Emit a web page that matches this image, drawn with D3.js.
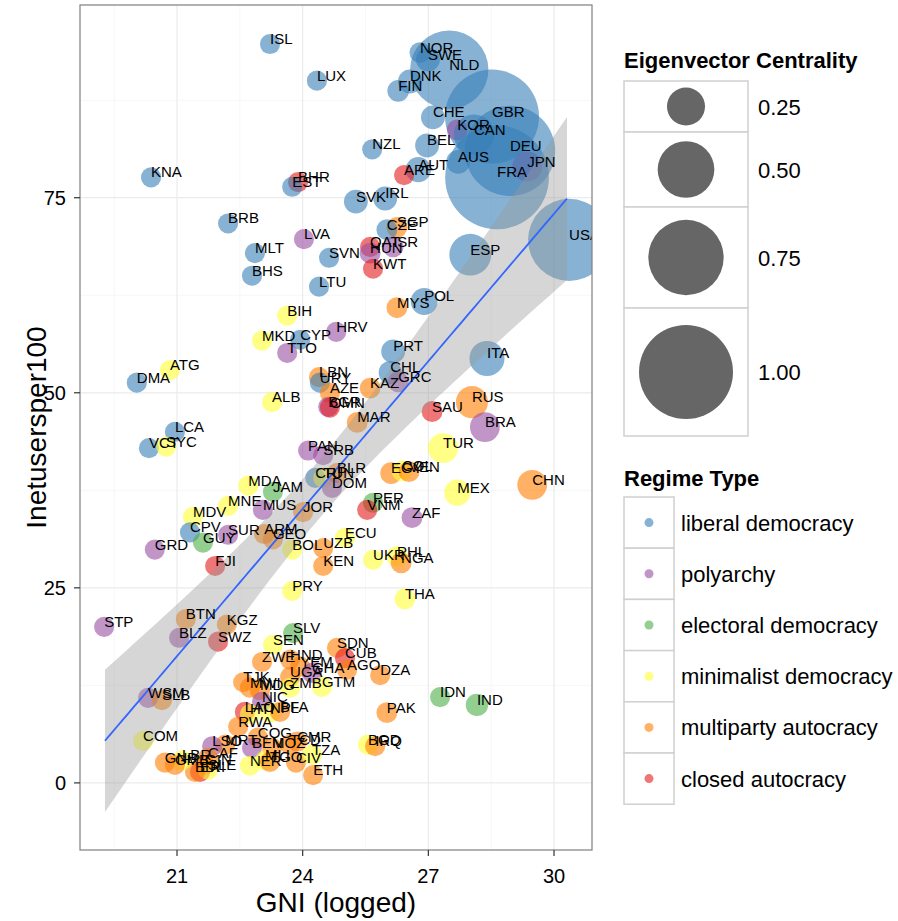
<!DOCTYPE html>
<html><head><meta charset="utf-8">
<script src="https://cdn.jsdelivr.net/npm/d3@7"></script>
<style>body{margin:0;background:#fff;} text{font-family:"Liberation Sans",Arial,Helvetica,sans-serif;}</style>
</head><body><svg id="c" width="898" height="921"></svg>
<script>
// ---------- data ----------
const codes = ["ISL","LUX","KNA","BHR","EST","NOR","SWE","NLD","DNK","FIN","CHE","GBR","KOR","CAN","DEU","JPN","FRA","AUS","BEL","AUT","ARE","NZL","SVK","IRL","USA","ESP","ITA","CHN","BRB","LVA","MLT","SVN","BHS","LTU","BIH","HRV","MKD","CYP","TTO","ATG","DMA","LBN","URY","AZE","ALB","BGR","OMN","SGP","CZE","QAT","ISR","HUN","KWT","POL","MYS","PRT","CHL","GRC","KAZ","RUS","SAU","MAR","BRA","LCA","VCT","SYC","PAN","SRB","CRI","TUN","BLR","DOM","TUR","EGY","COL","VEN","MEX","PER","VNM","ZAF","ECU","UKR","PHL","NGA","THA","MDA","JAM","MNE","MUS","JOR","MDV","CPV","SUR","GUY","ARM","GEO","GRD","BOL","UZB","KEN","FJI","PRY","BTN","STP","KGZ","BLZ","SWZ","WSM","SLB","COM","SLV","SEN","SDN","CUB","HND","ZWE","YEM","GHA","AGO","DZA","GTM","UGA","ZMB","TJK","PAK","BGD","IRQ","ETH","IDN","IND","MWI","MDG","NIC","LAO","HTI","NPL","BFA","RWA","COG","MRT","LSO","BEN","MOZ","TCD","CMR","CIV","TZA","GIN","NER","ERI","SLE","BDI","CAF","LBR","GMB","MLI","TGO","GNB"];
const gni = [23.22,24.34,20.38,23.89,23.75,26.80,26.99,27.50,26.56,26.28,27.11,28.52,27.69,28.09,28.95,29.36,28.64,27.71,26.97,26.76,26.42,25.66,25.27,25.97,30.36,28.00,28.40,29.48,22.22,24.03,22.86,24.63,22.79,24.39,23.63,24.80,23.03,23.94,23.63,20.83,20.04,24.39,24.41,24.65,23.27,24.61,24.65,26.25,26.01,25.61,26.16,25.61,25.68,26.90,26.25,26.16,26.09,26.28,25.61,28.04,27.09,25.30,28.35,20.95,20.33,20.74,24.13,24.49,24.30,24.49,24.82,24.70,27.35,26.11,26.37,26.54,27.69,25.68,25.54,26.61,25.01,25.68,26.25,26.35,26.44,22.70,23.29,22.22,23.05,24.01,21.38,21.31,22.22,21.62,23.08,23.29,20.47,23.75,24.49,24.49,21.91,23.75,21.21,19.26,22.19,21.05,21.98,20.31,20.64,20.19,23.77,23.29,24.82,25.01,23.70,23.03,23.94,24.22,25.06,25.85,24.46,23.70,23.70,22.58,26.01,25.56,25.73,24.25,27.28,28.16,22.74,22.98,23.03,22.62,22.74,23.22,23.46,22.46,22.93,22.15,21.84,22.79,23.27,23.70,23.87,23.84,24.22,21.67,22.74,21.55,21.74,21.43,21.74,21.12,20.95,23.10,23.22,20.71];
const inet = [94.7,90.0,77.6,77.0,76.4,93.6,92.7,91.4,89.9,88.7,85.3,85.4,83.7,83.1,81.0,79.0,77.6,79.6,81.7,78.6,77.9,81.2,74.5,74.9,69.6,67.7,54.4,38.2,71.7,69.7,67.9,67.3,65.0,63.6,59.9,57.8,56.7,56.8,55.1,52.9,51.3,52.0,51.3,50.0,48.8,48.2,48.1,71.2,70.9,68.7,68.7,67.9,65.9,61.7,60.9,55.3,52.6,51.4,50.6,48.8,47.6,46.2,45.6,45.0,42.9,43.1,42.6,42.0,39.1,39.1,39.7,37.8,42.9,39.7,40.0,39.9,37.2,35.9,35.0,34.0,31.4,28.6,29.0,28.2,23.6,38.1,37.3,35.5,35.0,34.7,34.1,32.1,31.8,30.8,31.9,31.2,29.9,29.9,30.1,27.8,27.8,24.6,21.0,20.0,20.3,18.6,18.1,10.9,10.6,5.4,19.2,17.7,17.3,16.0,15.8,15.5,14.9,14.1,14.5,13.8,12.3,13.6,12.2,12.9,9.0,4.9,4.7,1.0,11.0,10.0,12.2,11.9,10.4,9.1,8.8,9.0,9.1,7.2,5.8,4.9,4.7,4.5,4.5,4.9,5.3,2.6,3.6,2.3,2.2,1.4,1.7,1.4,3.2,2.9,2.3,2.9,2.7,2.6];
const eig = [0.01,0.01,0.01,0.01,0.01,0.02,0.06,0.79,0.06,0.03,0.06,1.00,0.02,0.28,0.95,0.14,1.13,0.06,0.06,0.08,0.01,0.01,0.06,0.06,0.84,0.30,0.21,0.14,0.01,0.01,0.01,0.01,0.01,0.01,0.01,0.01,0.01,0.01,0.01,0.01,0.01,0.01,0.01,0.01,0.01,0.01,0.01,0.02,0.02,0.01,0.02,0.02,0.01,0.10,0.02,0.06,0.05,0.02,0.02,0.17,0.02,0.02,0.14,0.01,0.01,0.01,0.01,0.01,0.01,0.01,0.01,0.01,0.14,0.03,0.02,0.02,0.09,0.01,0.01,0.02,0.01,0.01,0.02,0.02,0.02,0.01,0.01,0.01,0.01,0.01,0.01,0.01,0.01,0.01,0.01,0.01,0.01,0.01,0.01,0.01,0.01,0.01,0.01,0.01,0.01,0.01,0.01,0.01,0.01,0.01,0.01,0.01,0.01,0.01,0.01,0.01,0.01,0.01,0.01,0.01,0.01,0.01,0.01,0.01,0.02,0.01,0.01,0.01,0.01,0.04,0.01,0.01,0.01,0.01,0.01,0.01,0.01,0.01,0.01,0.01,0.01,0.01,0.01,0.01,0.01,0.01,0.01,0.01,0.01,0.01,0.01,0.01,0.01,0.01,0.01,0.01,0.01,0.01,0.01];
const regime = ["L","L","L","C","L","L","L","L","L","L","L","L","P","L","L","P","L","L","L","L","C","L","L","L","L","L","L","A","L","P","L","L","L","L","M","P","M","L","P","M","L","A","L","A","M","P","C","A","L","C","P","P","C","L","A","L","L","P","A","A","C","A","P","L","L","M","P","P","L","M","A","P","M","A","M","A","M","E","C","P","M","M","M","A","M","M","E","M","P","A","M","L","P","E","A","A","P","M","A","A","C","M","A","P","A","P","C","P","A","M","E","M","A","C","A","A","A","P","A","A","M","A","M","A","A","M","A","A","E","E","A","A","P","C","M","M","A","A","A","A","P","P","A","A","A","A","M","A","M","C","M","A","A","M","A","M","A","A"];
const regimeKeys = ["L","P","E","M","A","C"];
const regimeNames = ["liberal democracy","polyarchy","electoral democracy","minimalist democracy","multiparty autocracy","closed autocracy"];
const regimeColors = ["#377EB8","#984EA3","#4DAF4A","#FFFF33","#FF7F00","#E41A1C"];
const xTicks = [21,24,27,30];
const yTicks = [0,25,50,75];
const sizeBreaks = [0.25,0.50,0.75,1.00];
// fitted line (GNI, Inetusersper100 at both ends)
const fitX = [19.28, 30.31];
const fitY = [5.4, 74.9];

// ---------- layout ----------
const svg = d3.select("#c");
const P = {l:80, r:592, t:5, b:850};
const x = d3.scaleLinear().domain([18.684,30.907]).range([P.l,P.r]);
const y = d3.scaleLinear().domain([-8.6,99.7]).range([P.b,P.t]);
const rad = d3.scaleLinear().domain([0,1]).range([9.7,47]);
const col = d3.scaleOrdinal().domain(regimeKeys).range(regimeColors);

const data = codes.map((c,i)=>({c, x:gni[i], y:inet[i], e:eig[i], g:regime[i]}));

// panel
svg.append("rect").attr("x",P.l).attr("y",P.t).attr("width",P.r-P.l).attr("height",P.b-P.t).attr("fill","#fff");
const grid = svg.append("g");
const xMinor = xTicks.map(t=>t-1.5).concat([xTicks[xTicks.length-1]+1.5]).filter(v=>x(v)>P.l&&x(v)<P.r);
const yMinor = yTicks.map(t=>t+12.5).concat([yTicks[0]-12.5]).filter(v=>y(v)>P.t&&y(v)<P.b);
grid.selectAll(".xm").data(xMinor).join("line").attr("x1",d=>x(d)).attr("x2",d=>x(d)).attr("y1",P.t).attr("y2",P.b).attr("stroke","#f7f7f7").attr("stroke-width",1);
grid.selectAll(".ym").data(yMinor).join("line").attr("y1",d=>y(d)).attr("y2",d=>y(d)).attr("x1",P.l).attr("x2",P.r).attr("stroke","#f7f7f7").attr("stroke-width",1);
grid.selectAll(".xM").data(xTicks).join("line").attr("x1",d=>x(d)).attr("x2",d=>x(d)).attr("y1",P.t).attr("y2",P.b).attr("stroke","#ebebeb").attr("stroke-width",1.2);
grid.selectAll(".yM").data(yTicks).join("line").attr("y1",d=>y(d)).attr("y2",d=>y(d)).attr("x1",P.l).attr("x2",P.r).attr("stroke","#ebebeb").attr("stroke-width",1.2);

svg.append("clipPath").attr("id","pc").append("rect").attr("x",P.l).attr("y",P.t).attr("width",P.r-P.l).attr("height",P.b-P.t);
const plot = svg.append("g").attr("clip-path","url(#pc)");

// points
plot.selectAll("circle.pt").data(data).join("circle").attr("class","pt")
  .attr("cx",d=>x(d.x)).attr("cy",d=>y(d.y)).attr("r",d=>rad(d.e))
  .attr("fill",d=>col(d.g)).attr("fill-opacity",0.6);

// fitted line + 95% confidence band (standard error from residuals about the line)
const b1 = (fitY[1]-fitY[0])/(fitX[1]-fitX[0]), b0 = fitY[0]-b1*fitX[0];
const n = data.length;
const mx = d3.mean(data,d=>d.x);
const sxx = d3.sum(data,d=>(d.x-mx)**2);
const s = Math.sqrt(d3.sum(data,d=>(d.y-(b0+b1*d.x))**2)/(n-2));
const tq = 1.974;
const fit = d3.range(80).map(i=>{const xv=fitX[0]+(fitX[1]-fitX[0])*i/79; const f=b0+b1*xv; const se=s*Math.sqrt(1/n+(xv-mx)**2/sxx); return {x:xv,f,lo:f-tq*se,hi:f+tq*se};});
plot.append("path").datum(fit).attr("d",d3.area().x(d=>x(d.x)).y0(d=>y(d.lo)).y1(d=>y(d.hi))).attr("fill","#999999").attr("fill-opacity",0.4);
plot.append("path").datum(fit).attr("d",d3.line().x(d=>x(d.x)).y(d=>y(d.f))).attr("fill","none").attr("stroke","#3366FF").attr("stroke-width",1.8);

// labels
plot.selectAll("text.lb").data(data).join("text").attr("class","lb")
  .attr("x",d=>x(d.x)).attr("y",d=>y(d.y)).attr("font-size",15).attr("fill","#000").text(d=>d.c);

// border
svg.append("rect").attr("x",P.l).attr("y",P.t).attr("width",P.r-P.l).attr("height",P.b-P.t).attr("fill","none").attr("stroke","#7f7f7f").attr("stroke-width",1.2);

// axes
const ax = svg.append("g");
ax.selectAll(".xt").data(xTicks).join("line").attr("x1",d=>x(d)).attr("x2",d=>x(d)).attr("y1",P.b).attr("y2",P.b+6).attr("stroke","#333").attr("stroke-width",1.2);
ax.selectAll(".xl").data(xTicks).join("text").attr("x",d=>x(d)).attr("y",P.b+33).attr("text-anchor","middle").attr("font-size",20).attr("fill","#000").text(d=>d);
ax.selectAll(".yt").data(yTicks).join("line").attr("y1",d=>y(d)).attr("y2",d=>y(d)).attr("x1",P.l-6).attr("x2",P.l).attr("stroke","#333").attr("stroke-width",1.2);
ax.selectAll(".yl").data(yTicks).join("text").attr("x",P.l-14).attr("y",d=>y(d)+7).attr("text-anchor","end").attr("font-size",20).attr("fill","#000").text(d=>d);
svg.append("text").attr("x",(P.l+P.r)/2).attr("y",912).attr("text-anchor","middle").attr("font-size",28).text("GNI (logged)");
svg.append("text").attr("transform",`translate(46,${(P.t+P.b)/2}) rotate(-90)`).attr("text-anchor","middle").attr("font-size",28).text("Inetusersper100");

// legend: size
const L1 = svg.append("g");
L1.append("text").attr("x",624).attr("y",68).attr("font-size",22).attr("font-weight","bold").text("Eigenvector Centrality");
let yy = 81;
const boxH = [51,75,101,128];
sizeBreaks.forEach((v,i)=>{
  L1.append("rect").attr("x",624).attr("y",yy).attr("width",124).attr("height",boxH[i]).attr("fill","#fff").attr("stroke","#d0d0d0").attr("stroke-width",1.5);
  L1.append("circle").attr("cx",686).attr("cy",yy+boxH[i]/2).attr("r",rad(v)).attr("fill","#666666");
  L1.append("text").attr("x",758).attr("y",yy+boxH[i]/2+8).attr("font-size",22).text(d3.format(".2f")(v));
  yy += boxH[i];
});
// legend: regime
const L2 = svg.append("g");
L2.append("text").attr("x",624).attr("y",486).attr("font-size",22).attr("font-weight","bold").text("Regime Type");
regimeNames.forEach((nm,i)=>{
  const y0 = 497 + i*51.2;
  L2.append("rect").attr("x",624).attr("y",y0).attr("width",50).attr("height",51.2).attr("fill","#fff").attr("stroke","#d0d0d0").attr("stroke-width",1.5);
  L2.append("circle").attr("cx",649).attr("cy",y0+25.6).attr("r",4.5).attr("fill",regimeColors[i]).attr("fill-opacity",0.6);
  L2.append("text").attr("x",681).attr("y",y0+25.6+8).attr("font-size",22).text(nm);
});
</script></body></html>
